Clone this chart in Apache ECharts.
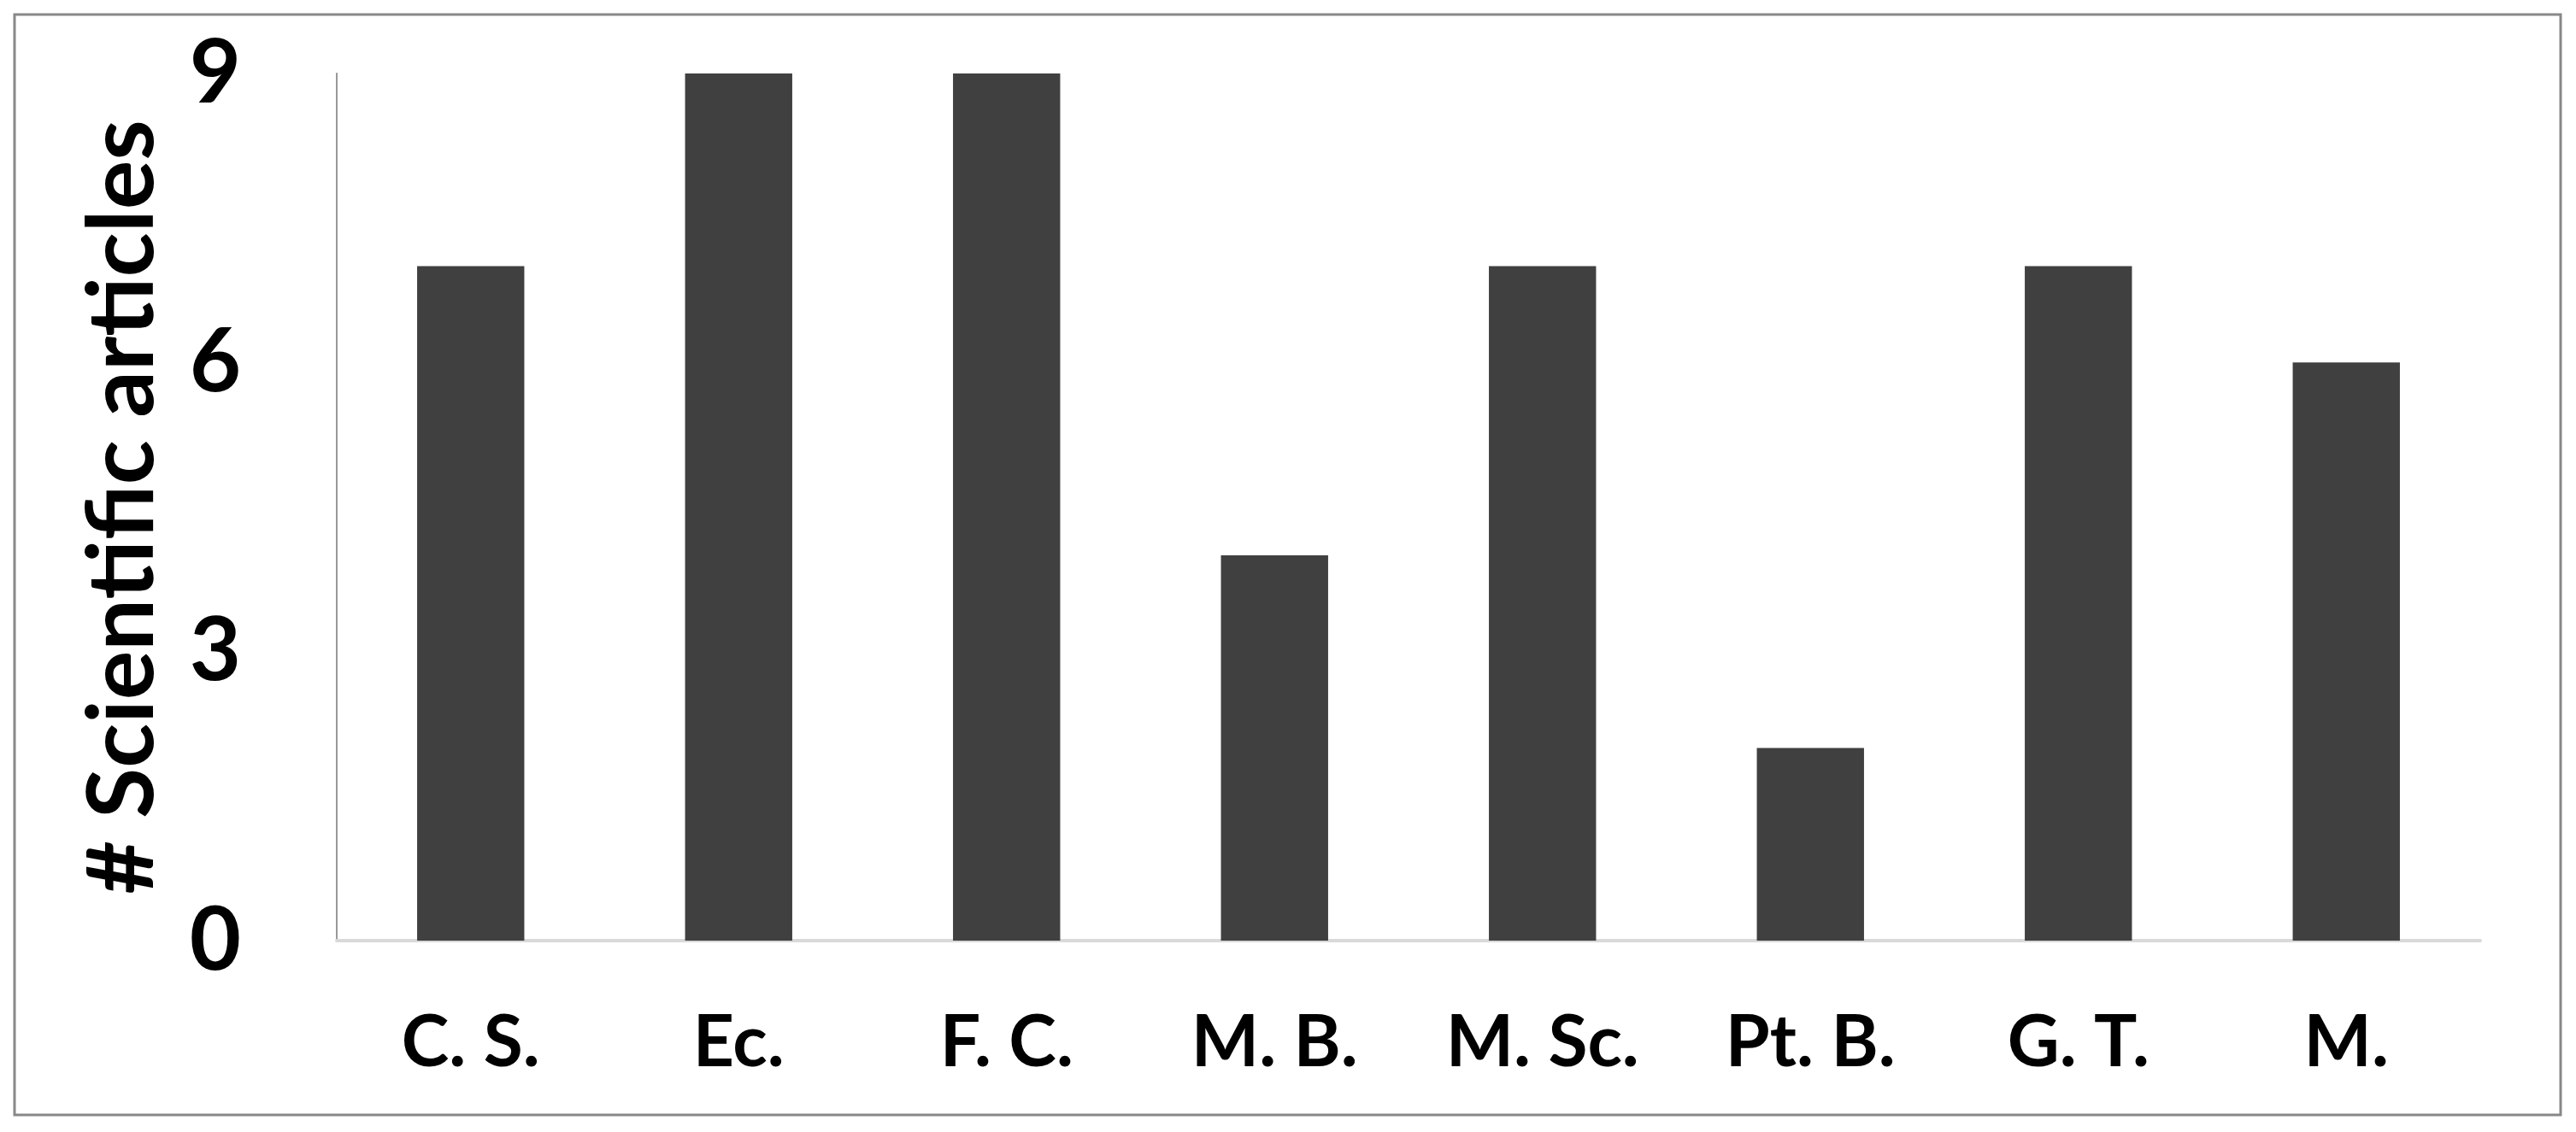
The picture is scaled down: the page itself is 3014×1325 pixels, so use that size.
<!DOCTYPE html>
<html>
	<head>
		<meta charset="UTF-8">
		<title></title>
		<script src="https://cdn.jsdelivr.net/npm/echarts@6/dist/echarts.min.js"></script>
		<style type="text/css">
			html, body { margin: 0; padding: 0; background: #fff; }
		</style>
	</head>
	<body>
		<div id="box" style="width:3014px;height:1325px;"></div>

		<script type="text/javascript">
			var categories = ['C. S.', 'Ec.', 'F. C.', 'M. B.', 'M. Sc.', 'Pt. B.', 'G. T.', 'M.'];
			var articles = [7, 9, 9, 4, 7, 2, 7, 6];
			var yTicks = [0, 3, 6, 9];

			var myChart = echarts.init(document.getElementById('box'));

			var option = {
				backgroundColor: '#fff',
				// outer frame
				graphic: [{
					type: 'rect',
					shape: { x: 17, y: 17, width: 2979, height: 1288 },
					style: { fill: 'none', stroke: '#888', lineWidth: 3 },
					silent: true
				}],
				grid: {
					left: 394,
					right: 112,
					top: 86,
					bottom: 224
				},
				xAxis: {
					type: 'category',
					data: categories,
					axisLine: { lineStyle: { color: '#d9d9d9', width: 4 } },
					axisTick: { show: false },
					axisLabel: {
						margin: 78,
						fontFamily: 'Lato',
						fontWeight: 'bold',
						fontSize: 84,
						color: '#000'
					}
				},
				yAxis: {
					type: 'value',
					min: yTicks[0],
					max: yTicks[yTicks.length - 1],
					interval: 3,
					name: '# Scientific articles',
					nameLocation: 'middle',
					nameGap: 196,
					nameTextStyle: {
						fontFamily: 'Lato',
						fontWeight: 'bold',
						fontSize: 108,
						color: '#000'
					},
					axisLine: { show: true, lineStyle: { color: '#999', width: 2 } },
					axisTick: { show: false },
					splitLine: { show: false },
					axisLabel: {
						margin: 112,
						fontFamily: 'Lato',
						fontWeight: 'bold',
						fontSize: 104,
						color: '#000'
					}
				},
				series: [{
					type: 'bar',
					data: articles,
					barWidth: '40%',
					itemStyle: { color: '#404040' },
					animation: false
				}]
			};
			myChart.setOption(option);
		</script>
	</body>
</html>
